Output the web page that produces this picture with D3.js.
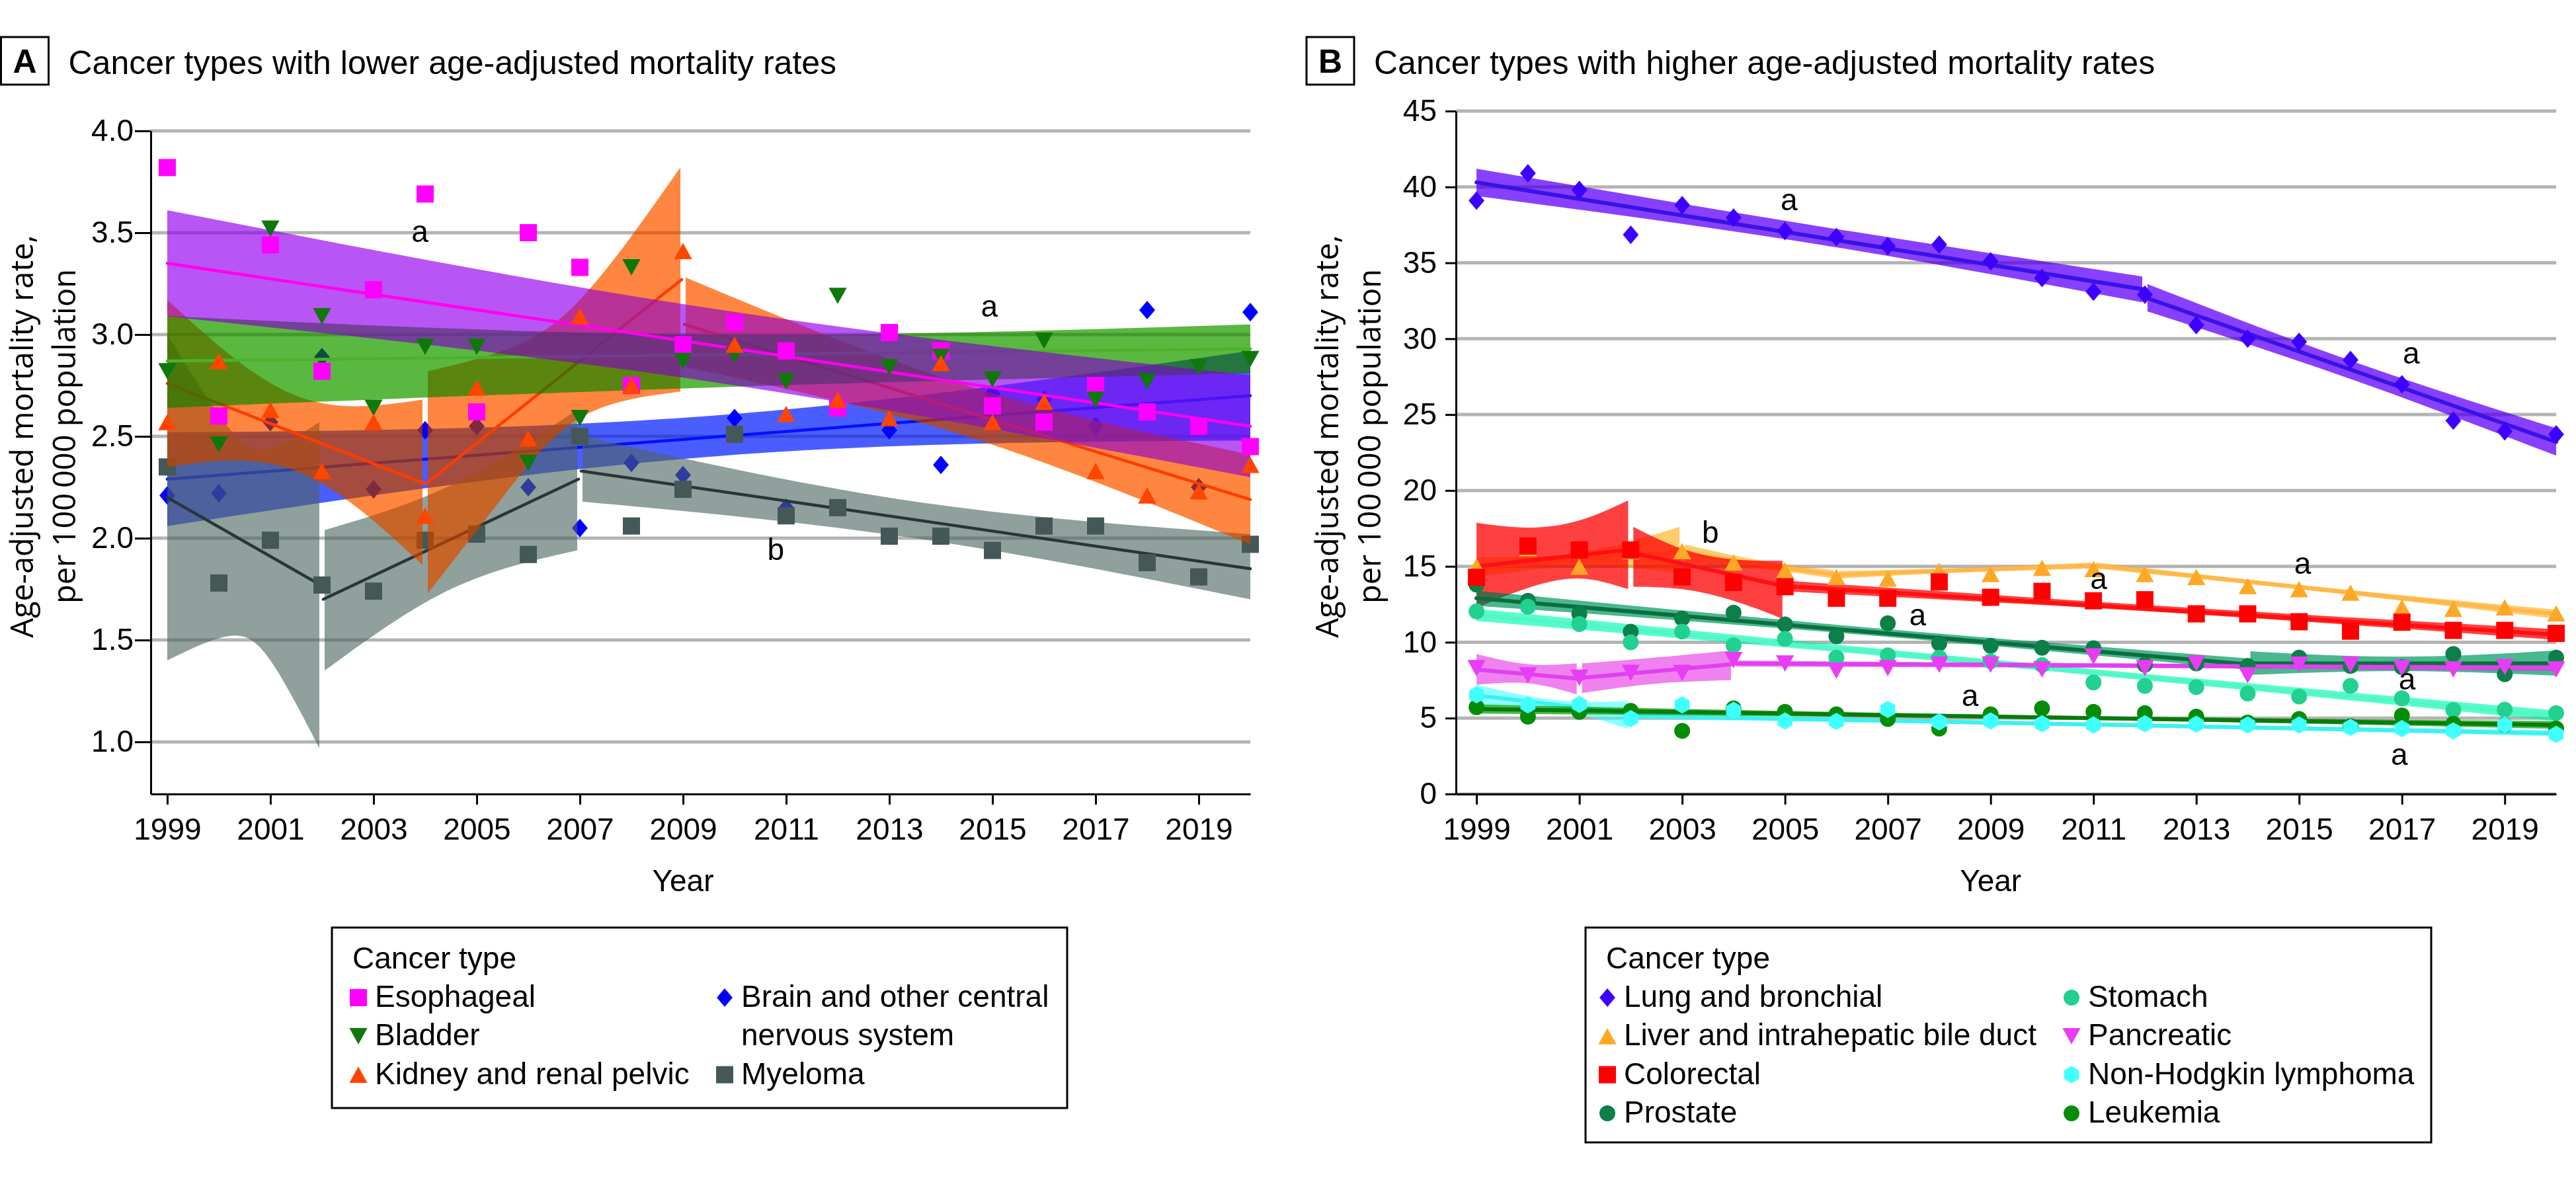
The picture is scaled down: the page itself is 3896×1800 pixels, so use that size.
<!DOCTYPE html>
<html>
<head>
<meta charset="UTF-8">
<title>Age-adjusted cancer mortality rates, 1999-2020</title>
<script src="https://d3js.org/d3.v7.min.js"></script>
<style>
  body { margin: 0; background: #fff; }
  text { font-family: "Liberation Sans", Arial, sans-serif; fill: #000; }
  .ytitle { font-family: "Open Sans", "DejaVu Sans", sans-serif; }
</style>
</head>
<body>
<svg id="chart" width="3896" height="1800"></svg>
<script>
// ---------- data ----------
const years = [1999, 2000, 2001, 2002, 2003, 2004, 2005, 2006, 2007, 2008, 2009,
               2010, 2011, 2012, 2013, 2014, 2015, 2016, 2017, 2018, 2019, 2020];
const xTickYears = [1999, 2001, 2003, 2005, 2007, 2009, 2011, 2013, 2015, 2017, 2019];
const yTicksA = [1.0, 1.5, 2.0, 2.5, 3.0, 3.5, 4.0];
const yTicksB = [0, 5, 10, 15, 20, 25, 30, 35, 40, 45];

// panel A observed rates
const esophageal = [3.82, 2.60, 3.44, 2.82, 3.22, 3.69, 2.62, 3.50, 3.33, 2.75, 2.95, 3.06, 2.92, 2.64, 3.01, 2.92, 2.65, 2.57, 2.75, 2.62, 2.55, 2.45];
const bladder    = [2.82, 2.46, 3.52, 3.09, 2.64, 2.94, 2.94, 2.37, 2.59, 3.33, 2.87, 2.90, 2.77, 3.19, 2.84, 2.89, 2.78, 2.97, 2.68, 2.77, 2.84, 2.88];
const kidney     = [2.57, 2.87, 2.63, 2.33, 2.57, 2.11, 2.74, 2.49, 3.09, 2.75, 3.41, 2.95, 2.61, 2.68, 2.59, 2.86, 2.57, 2.67, 2.33, 2.21, 2.23, 2.36];
const brain      = [2.21, 2.22, 2.57, 2.89, 2.24, 2.53, 2.55, 2.25, 2.05, 2.37, 2.31, 2.59, 2.15, 2.66, 2.53, 2.36, 2.71, 2.68, 2.55, 3.12, 2.25, 3.11];
const myeloma    = [2.35, 1.78, 1.99, 1.77, 1.74, 1.99, 2.02, 1.92, 2.50, 2.06, 2.24, 2.51, 2.11, 2.15, 2.01, 2.01, 1.94, 2.06, 2.06, 1.88, 1.81, 1.97];

// panel A joinpoint fits [startYear, startValue, endYear, endValue]
const esophagealFit = [[1999, 3.35, 2020, 2.55]];
const bladderFit    = [[1999, 2.87, 2020, 2.93]];
const kidneyFit     = [[1999, 2.76, 2004, 2.27], [2004, 2.27, 2009, 3.27], [2009, 3.05, 2020, 2.19]];
const brainFit      = [[1999, 2.29, 2020, 2.70]];
const myelomaFit    = [[1999, 2.20, 2002, 1.77], [2002, 1.70, 2007, 2.29], [2007, 2.33, 2020, 1.85]];

// panel A confidence bands, per segment: [year, lower, upper]
const esophagealBand = [[[1999, 3.09, 3.61], [2009.5, 2.77, 3.13], [2020, 2.30, 2.80]]];
const bladderBand    = [[[1999, 2.64, 3.09], [2009.5, 2.74, 3.00], [2020, 2.81, 3.05]]];
const kidneyBand = [
  [[1999, 2.35, 3.17], [2001.5, 2.33, 2.70], [2004, 1.87, 2.68]],
  [[2004, 1.73, 2.82], [2005.5, 2.20, 2.92], [2007, 2.59, 3.17], [2009, 2.72, 3.82]],
  [[2009, 2.84, 3.28], [2014.5, 2.50, 2.75], [2020, 1.97, 2.41]]
];
const brainBand = [[[1999, 2.06, 2.52], [2009.5, 2.40, 2.60], [2020, 2.48, 2.92]]];
const myelomaBand = [
  [[1999, 1.40, 3.00], [2000.2, 1.52, 2.54], [2001, 1.40, 2.44], [2002, 0.97, 2.57]],
  [[2002, 1.35, 2.04], [2004.5, 1.75, 2.26], [2007, 1.94, 2.63]],
  [[2007, 2.18, 2.50], [2013.5, 2.00, 2.18], [2020, 1.70, 2.02]]
];

// panel B observed rates
const lung       = [39.1, 40.9, 39.8, 36.85, 38.8, 37.98, 37.1, 36.7, 36.1, 36.2, 35.1, 34.0, 33.1, 32.9, 30.9, 30.0, 29.8, 28.6, 27.0, 24.6, 23.9, 23.7];
const liver      = [15.0, 16.2, 14.98, 16.0, 16.0, 15.25, 14.75, 14.3, 14.2, 14.7, 14.5, 14.9, 14.83, 14.5, 14.3, 13.7, 13.5, 13.27, 12.3, 12.2, 12.3, 11.9];
const colorectal = [14.28, 16.34, 16.08, 16.08, 14.31, 13.94, 13.66, 12.9, 12.9, 13.97, 12.96, 13.35, 12.73, 12.8, 11.87, 11.87, 11.35, 10.73, 11.32, 10.78, 10.78, 10.58];
const prostate   = [13.8, 12.73, 11.87, 10.7, 11.56, 11.95, 11.17, 10.39, 11.25, 9.92, 9.77, 9.64, 9.61, 8.52, 8.6, 8.44, 8.99, 8.44, 8.36, 9.22, 7.9, 8.99];
const stomach    = [12.03, 12.34, 11.2, 10.0, 10.7, 9.8, 10.23, 8.99, 9.14, 8.99, 8.75, 8.49, 7.35, 7.12, 7.04, 6.62, 6.42, 7.12, 6.31, 5.53, 5.56, 5.33];
const pancreatic = [8.29, 7.82, 7.66, 7.98, 7.98, 8.83, 8.6, 8.13, 8.29, 8.52, 8.52, 8.21, 9.07, 8.29, 8.6, 7.82, 8.52, 8.52, 8.29, 8.21, 8.36, 8.21];
const nhl        = [6.53, 5.87, 5.9, 4.97, 5.87, 5.51, 4.81, 4.78, 5.56, 4.75, 4.81, 4.63, 4.55, 4.63, 4.6, 4.55, 4.55, 4.39, 4.31, 4.16, 4.55, 3.93];
const leukemia   = [5.72, 5.1, 5.41, 5.48, 4.16, 5.64, 5.41, 5.25, 4.94, 4.31, 5.25, 5.64, 5.41, 5.33, 5.1, 4.71, 4.94, 4.47, 5.17, 4.63, 4.55, 4.31];

// panel B joinpoint fits
const lungFit       = [[1999, 40.3, 2012, 33.25], [2012, 32.7, 2020, 23.2]];
const liverFit      = [[1999, 14.95, 2003, 15.95], [2003, 15.85, 2006, 14.45], [2006, 14.45, 2011, 15.05], [2011, 15.05, 2020, 11.85]];
const colorectalFit = [[1999, 15.0, 2002, 16.1], [2002, 15.9, 2005, 13.7], [2005, 13.7, 2020, 10.5]];
const prostateFit   = [[1999, 12.9, 2014, 8.55], [2014, 8.6, 2020, 8.6]];
const stomachFit    = [[1999, 11.8, 2020, 5.15]];
const pancreaticFit = [[1999, 8.2, 2001, 7.6], [2001, 7.65, 2004, 8.55], [2004, 8.6, 2020, 8.3]];
const nhlFit        = [[1999, 6.5, 2002, 5.3], [2002, 5.15, 2020, 4.0]];
const leukemiaFit   = [[1999, 5.6, 2020, 4.55]];

// panel B confidence bands
const lungBand = [
  [[1999, 39.4, 41.2], [2005.5, 36.3, 37.5], [2012, 32.4, 34.1]],
  [[2012, 31.8, 33.6], [2016, 27.35, 28.55], [2020, 22.3, 24.1]]
];
const liverBand = [
  [[1999, 14.3, 15.6], [2001, 15.0, 15.9], [2003, 14.6, 17.6]],
  [[2003, 15.2, 16.45], [2004.5, 14.85, 15.4], [2006, 14.2, 14.75]],
  [[2006, 14.2, 14.7], [2008.5, 14.6, 14.9], [2011, 14.85, 15.25]],
  [[2011, 14.85, 15.25], [2015.5, 13.3, 13.6], [2020, 11.55, 12.15]]
];
const colorectalBand = [
  [[1999, 12.26, 17.87], [2000, 13.58, 17.55], [2001, 14.2, 18.02], [2002, 13.5, 19.34]],
  [[2002, 13.66, 17.6], [2003, 13.5, 16.15], [2004, 12.73, 15.45], [2005, 11.56, 15.37]],
  [[2005, 13.35, 14.05], [2012.5, 11.95, 12.35], [2020, 10.15, 10.85]]
];
const prostateBand = [
  [[1999, 12.4, 13.4], [2006.5, 10.5, 11.0], [2014, 8.2, 8.95]],
  [[2014, 7.85, 9.4], [2017, 8.1, 9.05], [2020, 7.8, 9.45]]
];
const stomachBand = [[[1999, 11.4, 12.2], [2009.5, 8.3, 8.7], [2020, 4.8, 5.5]]];
const pancreaticBand = [
  [[1999, 7.2, 9.22], [2000, 7.3, 8.55], [2001, 6.57, 8.6]],
  [[2001, 6.65, 8.6], [2002.5, 7.27, 9.0], [2004, 7.5, 9.45]],
  [[2004, 8.4, 8.8], [2012, 8.3, 8.6], [2020, 8.1, 8.5]]
];
const nhlBand = [
  [[1999, 5.8, 7.2], [2000.5, 5.6, 6.2], [2002, 4.3, 6.1]],
  [[2002, 4.95, 5.35], [2011, 4.45, 4.7], [2020, 3.8, 4.2]]
];
const leukemiaBand = [[[1999, 5.3, 5.9], [2009.5, 4.95, 5.2], [2020, 4.3, 4.8]]];

// significance markers [label, year, value]
const notesA = [["a", 2003.9, 3.456], ["a", 2014.94, 3.087], ["b", 2010.8, 1.893]];
const notesB = [["a", 2005.08, 38.46], ["a", 2017.18, 28.35], ["b", 2003.55, 16.55],
                ["a", 2007.58, 11.1], ["a", 2008.6, 5.8], ["a", 2011.1, 13.5],
                ["a", 2015.07, 14.52], ["a", 2017.1, 6.9], ["a", 2016.95, 1.9]];

// ---------- drawing ----------
const svg = d3.select("#chart");
const GAP = 4;

function markerPath(type, s) {
  const h = s / 2;
  if (type === "square") return `M${-h},${-h}h${s}v${s}h${-s}Z`;
  if (type === "triUp") return `M0,${-h * 0.95}L${h * 1.05},${h * 0.95}L${-h * 1.05},${h * 0.95}Z`;
  if (type === "triDown") return `M0,${h * 0.95}L${h * 1.05},${-h * 0.95}L${-h * 1.05},${-h * 0.95}Z`;
  if (type === "diamond") return `M0,${-h * 1.08}L${h * 0.92},0L0,${h * 1.08}L${-h * 0.92},0Z`;
  if (type === "circle") return d3.symbol().type(d3.symbolCircle).size(Math.PI * h * h * 0.85)();
  if (type === "hexagon") {
    const r = h;
    const pts = d3.range(6).map(i => {
      const a = Math.PI / 3 * i - Math.PI / 2;
      return [r * Math.cos(a), r * Math.sin(a)];
    });
    return "M" + pts.map(p => p.join(",")).join("L") + "Z";
  }
}

function makePanel(opt) {
  const x = d3.scaleLinear().domain([opt.xStart, 2020]).range([opt.left, opt.right]);
  const y = d3.scaleLinear().domain(opt.yDomain).range([opt.bottom, opt.top]);
  const g = svg.append("g");
  const grid = g.append("g");
  const plot = g.append("g");
  const axes = g.append("g");

  grid.selectAll("line").data(opt.yTicks).join("line")
    .attr("x1", opt.left).attr("x2", x(2020))
    .attr("y1", d => y(d)).attr("y2", d => y(d))
    .attr("stroke", "#b4b4b4").attr("stroke-width", 5);

  const xa = axes.append("g").attr("transform", `translate(0,${opt.bottom})`)
    .call(d3.axisBottom(x).tickValues(xTickYears).tickFormat(d3.format("d"))
      .tickSize(16).tickSizeOuter(0).tickPadding(20));
  const ya = axes.append("g").attr("transform", `translate(${opt.left},0)`)
    .call(d3.axisLeft(y).tickValues(opt.yTicks).tickFormat(opt.yFormat)
      .tickSize(opt.yTickSize).tickSizeOuter(0).tickPadding(opt.yPad));
  [xa, ya].forEach(a => {
    a.attr("font-size", null).attr("font-family", null);
    a.selectAll("path, line").attr("stroke", "#000").attr("stroke-width", 3);
    a.selectAll("text").attr("font-size", 46);
  });

  axes.append("text").attr("x", x(2009)).attr("y", 1348)
    .attr("text-anchor", "middle").attr("font-size", 46).text("Year");

  const yt = axes.append("text").attr("class", "ytitle").attr("font-size", 47)
    .attr("transform", `translate(${opt.left - 178},660) rotate(-90)`)
    .attr("text-anchor", "middle");
  yt.append("tspan").attr("x", 0).attr("y", 0).text("Age-adjusted mortality rate,");
  yt.append("tspan").attr("x", 0).attr("y", 64).text("per 100\u2009000 population");

  // panel heading
  axes.append("rect").attr("x", opt.boxX).attr("y", 56).attr("width", 72).attr("height", 72)
    .attr("fill", "none").attr("stroke", "#000").attr("stroke-width", 3);
  axes.append("text").attr("x", opt.boxX + 36).attr("y", 110).attr("text-anchor", "middle")
    .attr("font-size", 50).attr("font-weight", "bold").text(opt.letter);
  axes.append("text").attr("x", opt.boxX + 102).attr("y", 112)
    .attr("font-size", 50).text(opt.title);

  return {x, y, plot, axes};
}

// each band is painted twice: a plain translucent pass and a multiply pass,
// which gives the darker overlaps of the original figure
function drawBand(p, segs, color) {
  const area = d3.area().curve(d3.curveNatural)
    .x(d => d.px).y0(d => p.y(d.lo)).y1(d => p.y(d.hi));
  segs.forEach(seg => {
    const pts = seg.map((d, i) => {
      let px = p.x(d[0]);
      if (i === 0 && d[0] > 1999) px += GAP;
      if (i === seg.length - 1 && d[0] < 2020) px -= GAP;
      return {px, lo: d[1], hi: d[2]};
    });
    p.plot.append("path").datum(pts).attr("d", area)
      .attr("fill", color).attr("fill-opacity", 0.5);
    p.plot.append("path").datum(pts).attr("d", area)
      .attr("fill", color).attr("fill-opacity", 0.5)
      .style("mix-blend-mode", "multiply");
  });
}

function drawFit(p, segs, color, width) {
  const line = d3.line().x(d => d[0]).y(d => p.y(d[1]));
  segs.forEach(s => {
    const x0 = p.x(s[0]) + (s[0] > 1999 ? 2 : 0);
    const x1 = p.x(s[2]) - (s[2] < 2020 ? 2 : 0);
    p.plot.append("path").datum([[x0, s[1]], [x1, s[3]]]).attr("d", line)
      .attr("fill", "none").attr("stroke", color).attr("stroke-width", width)
      .attr("stroke-linecap", "round");
  });
}

function drawMarkers(p, values, type, color, size) {
  const path = markerPath(type, size);
  p.plot.append("g").selectAll("path").data(values).join("path")
    .attr("d", path)
    .attr("transform", (d, i) => `translate(${p.x(years[i])},${p.y(d)})`)
    .attr("fill", color);
}

function drawNotes(p, notes) {
  p.axes.append("g").selectAll("text").data(notes).join("text")
    .attr("x", d => p.x(d[1])).attr("y", d => p.y(d[2]))
    .attr("text-anchor", "middle").attr("font-size", 46).text(d => d[0]);
}

function drawLegend(opt) {
  const g = svg.append("g");
  g.append("rect").attr("x", opt.x0).attr("y", 1403).attr("width", opt.w).attr("height", opt.h)
    .attr("fill", "#fff").attr("stroke", "#000").attr("stroke-width", 3);
  g.append("text").attr("x", opt.x0 + 31).attr("y", 1465).attr("font-size", 46).text("Cancer type");
  opt.items.forEach(it => {
    const cx = opt.cols[it.col];
    const cy = 1509 + it.row * 58.3;
    g.append("path").attr("d", markerPath(it.type, 26))
      .attr("transform", `translate(${cx},${cy})`).attr("fill", it.color);
    it.label.forEach((t, k) => {
      g.append("text").attr("x", cx + 25).attr("y", cy + 14 + k * 58.3)
        .attr("font-size", 46).text(t);
    });
  });
}

// ---------- panel A ----------
const A = makePanel({
  xStart: 1998.68, left: 228, right: 1891, top: 198, bottom: 1201,
  yDomain: [0.744, 4.0], yTicks: yTicksA, yFormat: d3.format(".1f"),
  yTickSize: 24, yPad: 2, boxX: 1.5, letter: "A",
  title: "Cancer types with lower age-adjusted mortality rates"
});

const colA = {
  esophageal: {m: "#ff00ff", l: "#ff00f0", b: "#b328f5"},
  bladder:    {m: "#0f780a", l: "#4cb22c", b: "#30b300"},
  kidney:     {m: "#ff4500", l: "#ff3c00", b: "#ff7400"},
  brain:      {m: "#0000ff", l: "#0010ff", b: "#1438ff"},
  myeloma:    {m: "#455858", l: "#2a3636", b: "#7f9591"}
};

drawBand(A, brainBand, colA.brain.b);
drawFit(A, brainFit, colA.brain.l, 4.5);
drawMarkers(A, brain, "diamond", colA.brain.m, 26);
drawBand(A, myelomaBand, colA.myeloma.b);
drawFit(A, myelomaFit, colA.myeloma.l, 4.5);
drawMarkers(A, myeloma, "square", colA.myeloma.m, 26);
drawBand(A, kidneyBand, colA.kidney.b);
drawFit(A, kidneyFit, colA.kidney.l, 4.5);
drawBand(A, bladderBand, colA.bladder.b);
drawFit(A, bladderFit, colA.bladder.l, 4.5);
drawBand(A, esophagealBand, colA.esophageal.b);
drawFit(A, esophagealFit, colA.esophageal.l, 4.5);
drawMarkers(A, esophageal, "square", colA.esophageal.m, 26);
drawMarkers(A, bladder, "triDown", colA.bladder.m, 26);
drawMarkers(A, kidney, "triUp", colA.kidney.m, 26);
drawNotes(A, notesA);

// ---------- panel B ----------
const B = makePanel({
  xStart: 1998.6, left: 2202, right: 3866, top: 168, bottom: 1201,
  yDomain: [0, 45], yTicks: yTicksB, yFormat: d3.format("d"),
  yTickSize: 16, yPad: 13, boxX: 1976, letter: "B",
  title: "Cancer types with higher age-adjusted mortality rates"
});

const seriesB = [
  {v: lung, fit: lungFit, band: lungBand, type: "diamond", m: "#3d00ff", l: "#3a12e6", b: "#7600ff"},
  {v: liver, fit: liverFit, band: liverBand, type: "triUp", m: "#ffa726", l: "#ffb84a", b: "#ffca4e"},
  {v: colorectal, fit: colorectalFit, band: colorectalBand, type: "square", m: "#ff0000", l: "#ff1010", b: "#ff0200"},
  {v: prostate, fit: prostateFit, band: prostateBand, type: "circle", m: "#0b8048", l: "#0b6e3c", b: "#12b37d"},
  {v: stomach, fit: stomachFit, band: stomachBand, type: "circle", m: "#22d18f", l: "#55f5c8", b: "#28ffca"},
  {v: pancreatic, fit: pancreaticFit, band: pancreaticBand, type: "triDown", m: "#e83cf5", l: "#e040f0", b: "#f06ef0"},
  {v: nhl, fit: nhlFit, band: nhlBand, type: "hexagon", m: "#40ffff", l: "#3ff0f0", b: "#7bffff"},
  {v: leukemia, fit: leukemiaFit, band: leukemiaBand, type: "circle", m: "#078c07", l: "#0a7a0a", b: "#0cb80c"}
];
seriesB.forEach(s => { drawBand(B, s.band, s.b); drawFit(B, s.fit, s.l, 6); });
[0, 1, 3, 4, 5, 7, 6, 2].forEach(i => {
  const s = seriesB[i];
  drawMarkers(B, s.v, s.type, s.m, 26);
});
drawNotes(B, notesB);

// ---------- legends ----------
drawLegend({
  x0: 502, w: 1112, h: 273, cols: [542, 1096],
  items: [
    {col: 0, row: 0, type: "square", color: colA.esophageal.m, label: ["Esophageal"]},
    {col: 0, row: 1, type: "triDown", color: colA.bladder.m, label: ["Bladder"]},
    {col: 0, row: 2, type: "triUp", color: colA.kidney.m, label: ["Kidney and renal pelvic"]},
    {col: 1, row: 0, type: "diamond", color: colA.brain.m, label: ["Brain and other central", "nervous system"]},
    {col: 1, row: 2, type: "square", color: colA.myeloma.m, label: ["Myeloma"]}
  ]
});
drawLegend({
  x0: 2398, w: 1279, h: 325, cols: [2431, 3133],
  items: [
    {col: 0, row: 0, type: "diamond", color: "#3d00ff", label: ["Lung and bronchial"]},
    {col: 0, row: 1, type: "triUp", color: "#ffa726", label: ["Liver and intrahepatic bile duct"]},
    {col: 0, row: 2, type: "square", color: "#ff0000", label: ["Colorectal"]},
    {col: 0, row: 3, type: "circle", color: "#0b8048", label: ["Prostate"]},
    {col: 1, row: 0, type: "circle", color: "#22d18f", label: ["Stomach"]},
    {col: 1, row: 1, type: "triDown", color: "#e83cf5", label: ["Pancreatic"]},
    {col: 1, row: 2, type: "hexagon", color: "#40ffff", label: ["Non-Hodgkin lymphoma"]},
    {col: 1, row: 3, type: "circle", color: "#078c07", label: ["Leukemia"]}
  ]
});
</script>
</body>
</html>
